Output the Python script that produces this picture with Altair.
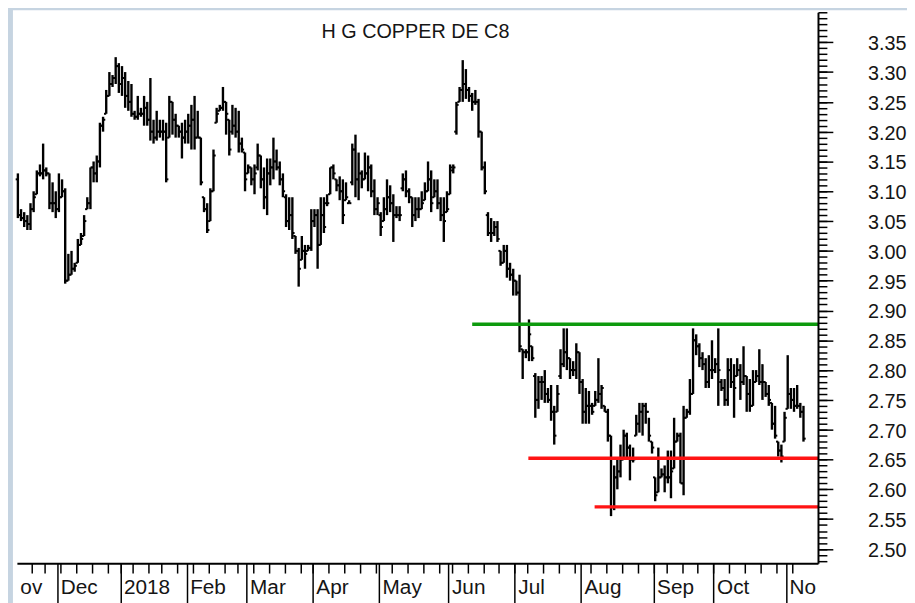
import json
import altair as alt
import pandas as pd

# Daily bars (prices in US cents per lb), Nov 13 2017 .. Nov 8 2018, trading-day index
HIGH = [
    313, 307, 306.5, 306, 308, 310, 313.5, 314.5, 318, 314, 313, 311.5, 310,
    313, 312, 310.5, 299.5, 300, 298, 302, 303, 306, 309, 314, 315, 316, 321.5, 322.5, 327, 330, 329.5, 332.5, 331.5,
    331, 330, 328.5, 328, 323.5, 326, 324, 326, 325, 329, 322, 323.5, 322, 322, 321.5, 326, 325, 323, 321, 321.5, 322,
    323, 324.5, 326, 323.5, 319, 309, 308, 310.5, 317, 324, 324.5, 327.5, 325, 322, 324.5, 324, 323.5, 319, 316.5,
    314.5, 314, 314.5, 318, 316, 314, 315.5, 315.5, 319, 317, 315, 313, 309.5, 309, 309, 302.5, 300.5, 302.5, 301, 301, 307,
    307, 307, 309, 309, 309.5, 314, 314.5, 312, 312.5, 312, 311.5, 308.5, 318, 319.5, 316.5, 313.5, 316.5, 316, 314.5, 312, 309,
    306.5, 309, 312, 311, 309.5, 307.5, 307.5, 313, 313.5, 310.5, 309, 309, 309, 310, 311.5, 315, 313.5, 312, 312, 309, 309, 310,
    314.5, 314.5, 325, 327.5, 332, 330.5, 327.5, 326.5, 327, 325.5, 320, 315, 306.5, 305.5, 305, 305, 300, 301, 301, 298, 297,
    295, 296, 283.5, 283.5, 288.5, 284, 279.5, 279, 279, 280, 277, 277.5, 274, 277.5, 283.5, 287, 287, 282, 281.5, 284.5, 283,
    278.5, 277, 276.5, 274.5, 276.5, 282, 277.5, 274, 273.5, 269, 264, 265, 267.5, 270, 269.5, 267.5, 267, 272.5, 274.5, 274.5, 274.5, 272, 268,
    262, 267, 263.5, 264, 266.5, 266.5, 272, 269.5, 269.5, 274, 273.5, 278.5, 287, 286, 284.5, 283, 282, 282.5, 285,
    282, 287, 278.5, 278.5, 282, 282, 281, 282, 281, 284, 279, 278.5, 280, 280, 283.5, 281, 278, 277.5, 274.5, 274, 268, 267.5, 273,
    282.5, 277, 277, 277.5, 274.5, 274,
]
LOW = [
    305.5, 305, 304, 303.5, 303.5, 306.5, 309.5, 312.5, 312, 312.5, 307, 306.5, 305.5,
    306.5, 309, 294.5, 295, 296, 296.5, 298, 301, 302.5, 307, 307, 311.5, 311.5, 314, 320, 323, 326, 327.5, 328, 326.5,
    326, 324, 323.5, 322.5, 322, 322, 322.5, 321, 321, 318.5, 318, 318.5, 319, 318.5, 311.5, 319, 319.5, 319, 319, 315.5, 318,
    318, 317, 317, 319, 311, 306.5, 303, 305, 310, 321.5, 323.5, 323.5, 319.5, 316, 319.5, 319, 316.5, 316.5, 310,
    313, 311, 309.5, 313.5, 310.5, 307, 306, 311, 312, 313.5, 311, 309, 304, 303.5, 302, 299.5, 294, 298.5, 297, 300, 300,
    304, 297, 301, 303, 307.5, 309.5, 312, 310, 308.5, 304.5, 308.5, 308, 311, 309, 308.5, 310.5, 312, 310, 309, 306, 306,
    302.5, 305, 306, 306.5, 301.5, 305.5, 305, 310, 309, 308, 304, 305, 305.5, 307, 308.5, 310, 306.5, 309, 307, 305, 301.5, 306.5,
    309.5, 313, 319.5, 325, 325, 325.5, 325, 323.5, 324.5, 319, 313.5, 309.5, 302.5, 301.5, 302.5, 301.5, 297.5, 298, 295.5, 295, 292.5,
    292.5, 283, 278.5, 282, 281.5, 281.5, 272, 273.5, 275, 274.5, 274.5, 271.5, 267.5, 273, 278.5, 280.5, 280, 278.5, 279, 278.5, 276,
    271, 271, 271, 272.5, 274, 274.5, 273.5, 273, 268, 255.5, 256.5, 260, 262, 265, 265, 261.5, 264.5, 269, 269.5, 269, 271, 268, 266,
    258, 259.5, 262, 259.5, 261, 258.5, 263.5, 268, 261, 259, 272, 272.5, 276, 282.5, 280.5, 280, 277, 277, 278.5,
    279.5, 274, 276.5, 274, 274, 277, 272, 279, 275, 277.5, 273, 273, 274, 278, 277.5, 275, 275.5, 274, 270, 268.5, 265.5, 264.5, 268,
    273.5, 273.5, 273, 273.5, 272, 268,
]
OPEN = [
    312, 306, 305.5, 305, 304.5, 307, 309.5, 313, 313, 313.5, 313, 308, 308,
    307, 309, 310, 295, 296, 297, 298, 301, 302.5, 307, 308, 314, 313, 315, 321, 323, 326, 328, 329, 331,
    328, 329, 326, 325, 323, 322.5, 323, 323, 324, 322, 320, 319, 320, 320, 320, 319, 325, 322, 321, 320, 319,
    320, 321, 322, 319, 319, 309, 307, 305, 310, 321.5, 323.5, 324, 325, 322, 320, 321, 320, 318, 316.5,
    313, 314, 312, 314, 316, 312, 309, 313, 314, 315, 314, 312, 309, 305, 306, 302.5, 300, 298.5, 300, 300, 300.5,
    305, 306, 301, 306, 308, 309.5, 314, 312, 311, 310, 308.5, 308, 311.5, 317, 312, 313, 312, 313, 314, 310, 307,
    306, 305, 307, 309, 308, 306, 306, 310.5, 312, 310, 309, 306, 307, 307, 308.5, 310, 312, 309, 310, 308, 306, 306.5,
    309.5, 313.5, 320, 325, 327, 328, 327, 326, 325, 325, 320, 314, 306, 303, 303, 304, 300, 298, 300, 297, 296,
    295, 293, 283.5, 283, 283, 284, 279, 275, 278, 278, 276, 275, 273, 273, 279, 281, 283, 282, 280, 280, 283,
    278, 273, 274, 274, 274, 275, 276, 274, 273, 269, 257, 262, 263, 265, 269, 267, 265, 269, 271, 273, 274, 273, 268,
    262, 259.5, 262, 262.5, 262, 262, 263.5, 268, 269, 261, 272, 273, 276, 285, 284, 282, 281, 278, 280,
    280, 281, 278, 277, 275, 280, 278, 279, 280, 278, 279, 276, 274, 278, 279, 278, 278, 276, 274.5, 271, 268, 266.5, 268,
    273.5, 276, 275, 274, 274, 273,
]
CLOSE = [
    306, 305.5, 305, 304.5, 307, 309, 313, 313, 313.5, 313, 308, 308, 307,
    309, 310, 295, 296, 297, 297.5, 301, 302, 305, 308, 314, 313, 315, 321, 322, 326, 328, 329, 331, 328,
    329, 326, 325, 323, 322.5, 323, 323, 324, 322, 320, 319, 320, 320, 320, 312, 325, 322, 321, 320, 319, 320,
    321, 322, 319, 319, 311.5, 307, 303.5, 310, 316, 323, 324, 325, 323, 317, 321, 320, 318, 317, 312,
    314, 312, 313, 316, 312, 309, 313, 314, 315, 314, 312, 310, 305, 306, 303, 300, 297, 300, 299.5, 300.5, 305,
    306, 301, 306, 304, 308, 314, 313, 311, 310, 306, 309, 308, 317, 312, 313, 312, 313, 314, 310, 307, 308,
    304, 307, 309, 308, 306, 306, 306, 312, 310, 309, 306, 307, 307, 308, 310, 312, 308, 310, 308, 306, 305, 307,
    314, 314, 324.5, 327, 328, 327, 326, 325, 325, 320, 314, 310, 303, 303, 304, 302, 298, 300, 297, 296, 295,
    293, 284, 283, 283, 286, 282, 275, 278, 278, 276, 275, 273, 269, 276, 281, 283, 282, 280, 280, 283, 278,
    273, 274, 274, 273, 275, 276, 277, 273, 269, 257, 262, 263, 265, 269, 267, 265, 265, 271, 273, 274, 273, 269, 267,
    259, 262, 262.5, 262, 262, 263, 268, 269, 261, 272, 273, 276, 285, 284, 282, 281, 278, 280, 280,
    281, 280, 277, 275, 280, 278, 277, 280, 278, 279, 276, 274, 278, 279, 278, 278, 276, 275, 271, 269, 266.5, 265.5, 272,
    276, 275, 274, 274, 273, 268.5,
]
assert len(HIGH) == len(LOW) == len(OPEN) == len(CLOSE) == 250

# Month separators / labels (trading-day index positions)
MONTH_NAMES = ["ov", "Dec", "2018", "Feb", "Mar", "Apr", "May", "Jun", "Jul", "Aug", "Sep", "Oct", "No"]
MONTH_POS = [-0.31, 12.5, 32.5, 53.5, 72.5, 93.5, 114.5, 136.5, 157.5, 178.5, 201.5, 220.5, 243.5]
# Weekly ticks (first trading day of each week)
WEEK_POS = [4.5, 8.5, 13.5, 18.5, 23.5, 28.5, 32.5, 36.5, 41.5, 45.5, 50.5, 55.5, 60.5, 65.5, 69.5,
            74.5, 79.5, 84.5, 89.5, 93.5, 98.5, 103.5, 108.5, 113.5, 118.5, 123.5, 128.5, 133.5,
            137.5, 142.5, 147.5, 152.5, 157.5, 161.5, 166.5, 171.5, 176.5, 181.5, 186.5, 191.5,
            196.5, 201.5, 205.5, 210.5, 215.5, 220.5, 225.5, 230.5, 235.5, 240.5, 245.5]
PRICE_LABELS = [2.50, 2.55, 2.60, 2.65, 2.70, 2.75, 2.80, 2.85, 2.90, 2.95,
                3.00, 3.05, 3.10, 3.15, 3.20, 3.25, 3.30, 3.35]
MINOR_TICKS = [round(2.48 + 0.01 * i, 2) for i in range(93)]

# Support / resistance lines
LEVEL_PRICE = [2.877, 2.652, 2.5705]
LEVEL_START = [144.0, 161.8, 182.8]
LEVEL_END = [253.6, 253.6, 253.6]
LEVEL_COLOR = ["#0d9a0d", "#ff1414", "#ff1414"]

TITLE = "H G COPPER DE C8"

W, H = 810, 557
X_DOMAIN = [-0.31, 253.6]
Y_DOMAIN = [2.4761, 3.4003]
FONT = "Liberation Sans"
INK = "#151515"

bars = pd.DataFrame({
    "idx": list(range(len(HIGH))),
    "high": [v / 100 for v in HIGH],
    "low": [v / 100 for v in LOW],
    "open": [v / 100 for v in OPEN],
    "close": [v / 100 for v in CLOSE],
})
levels = pd.DataFrame({"start": LEVEL_START, "end": LEVEL_END, "price": LEVEL_PRICE, "color": LEVEL_COLOR})

xs = alt.Scale(domain=X_DOMAIN, nice=False, zero=False)
ys = alt.Scale(domain=Y_DOMAIN, nice=False, zero=False)

label_expr = "{}[indexof({}, datum.value)]".format(json.dumps(MONTH_NAMES), json.dumps(MONTH_POS))

panel = alt.Chart(pd.DataFrame({"a": [0]})).mark_rect(color="white").encode(
    x=alt.value(-4), x2=alt.value(W + 200), y=alt.value(-2), y2=alt.value(H + 100)
)

hl = alt.Chart(bars).mark_rule(color="black", strokeWidth=2.4).encode(
    x=alt.X("idx:Q", scale=xs, axis=alt.Axis(
        orient="bottom", values=WEEK_POS, tickSize=10, tickWidth=1.5, tickColor="black",
        labels=False, domain=True, domainColor="black", domainWidth=2, grid=False,
        title=None, zindex=1)),
    y=alt.Y("low:Q", scale=ys, axis=alt.Axis(
        orient="right", values=MINOR_TICKS, tickSize=9, tickWidth=1.5, tickColor="black",
        labels=False, domain=True, domainColor="black", domainWidth=2, grid=False,
        title=None, zindex=1)),
    y2="high:Q",
)

op = alt.Chart(bars).transform_calculate(xo="datum.idx - 0.7").mark_rule(
    color="black", strokeWidth=2.0).encode(
    x=alt.X("xo:Q", scale=xs, axis=None),
    x2="idx:Q",
    y=alt.Y("open:Q", scale=ys, axis=None),
)

cl = alt.Chart(bars).transform_calculate(xc="datum.idx + 0.7").mark_rule(
    color="black", strokeWidth=2.0).encode(
    x=alt.X("idx:Q", scale=xs, axis=None),
    x2="xc:Q",
    y=alt.Y("close:Q", scale=ys, axis=None),
)

lv = alt.Chart(levels).mark_rule(strokeWidth=3.5).encode(
    x=alt.X("start:Q", scale=xs, axis=alt.Axis(
        orient="bottom", values=MONTH_POS, tickSize=40, tickWidth=1.5, tickColor="black",
        tickOpacity={"condition": {"test": "datum.value < 0", "value": 0}, "value": 1},
        domain=False, grid=False, labelExpr=label_expr, labelAlign="left",
        labelBaseline="alphabetic", labelPadding=-9, labelOffset=3, labelFont=FONT,
        labelFontSize=21, labelColor=INK, labelOverlap=False, labelFlush=False,
        labelBound=False, title=None, zindex=1)),
    x2="end:Q",
    y=alt.Y("price:Q", scale=ys, axis=alt.Axis(
        orient="right", values=PRICE_LABELS, format=".2f", tickSize=15, tickWidth=1.5,
        tickColor="black", domain=False, grid=False, labelPadding=35, labelAlign="left",
        labelBaseline="middle", labelOffset=1.5, labelFont=FONT, labelFontSize=20,
        labelColor=INK, labelOverlap=False, labelFlush=False, title=None, zindex=1)),
    color=alt.Color("color:N", scale=None),
)

title = alt.Chart(pd.DataFrame({"t": [TITLE]})).mark_text(
    font=FONT, fontSize=20, color=INK, align="center", baseline="alphabetic").encode(
    x=alt.value(403), y=alt.value(26), text="t:N")

chart = alt.layer(panel, hl, op, cl, lv, title).resolve_axis(
    x="independent", y="independent"
).properties(
    width=W, height=H,
    padding={"left": 9, "top": 1, "right": 90, "bottom": 40},
    autosize=alt.AutoSizeParams(type="none"),
    background="#C6D4E1",
).configure_view(stroke=None)

chart.save("out.html", embed_options={"renderer": "svg", "actions": False})
